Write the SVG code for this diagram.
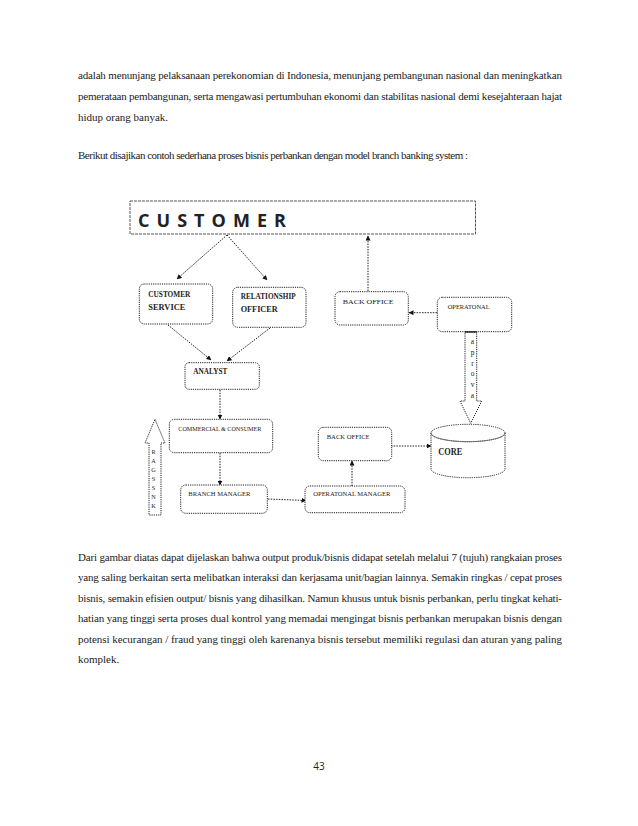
<svg xmlns="http://www.w3.org/2000/svg" width="638" height="826" viewBox="0 0 638 826">
<defs>
<style>
.p{font-family:"Liberation Serif","Times New Roman",serif;font-size:11px;fill:#222}
.bx{fill:#fff;stroke:#222;stroke-width:1;stroke-dasharray:1.2 1}
.lb{font-family:"Liberation Serif","Times New Roman",serif;font-size:7.2px;font-weight:bold;fill:#222}
.lt{font-family:"Liberation Serif","Times New Roman",serif;font-size:7px;fill:#222}
.cn{fill:none;stroke:#222;stroke-width:1;stroke-dasharray:1.5 1.2}
.vl{font-family:"Liberation Serif","Times New Roman",serif;font-size:7.5px;fill:#222;text-anchor:middle}
.vs{font-family:"Liberation Serif","Times New Roman",serif;font-size:6.2px;fill:#222;text-anchor:middle}
</style>
<marker id="ah" viewBox="0 0 10 10" refX="9" refY="5" markerWidth="5" markerHeight="5" orient="auto" markerUnits="userSpaceOnUse">
<path d="M0,0 L10,5 L0,10 z" fill="#111"/>
</marker>
</defs>
<rect width="638" height="826" fill="#fff"/>

<g id="text-top">
<text class="p" x="78" y="79" textLength="484" lengthAdjust="spacing">adalah menunjang pelaksanaan perekonomian di Indonesia, menunjang pembangunan nasional dan meningkatkan</text>
<text class="p" x="78" y="100" textLength="484" lengthAdjust="spacing">pemerataan pembangunan, serta mengawasi pertumbuhan ekonomi dan stabilitas nasional demi kesejahteraan hajat</text>
<text class="p" x="78" y="121">hidup orang banyak.</text>
<text class="p" x="78" y="159" textLength="390" lengthAdjust="spacing">Berikut disajikan contoh sederhana proses bisnis perbankan dengan model branch banking system :</text>
</g>

<g id="connectors">
<line class="cn" x1="227" y1="235" x2="177" y2="279" marker-end="url(#ah)"/>
<line class="cn" x1="227" y1="235" x2="267" y2="280" marker-end="url(#ah)"/>
<line class="cn" x1="368" y1="291" x2="368" y2="236" marker-end="url(#ah)"/>
<line class="cn" x1="437" y1="312.7" x2="409" y2="312.7" marker-end="url(#ah)"/>
<line class="cn" x1="168" y1="325" x2="211" y2="360" marker-end="url(#ah)"/>
<line class="cn" x1="270" y1="328" x2="227" y2="361" marker-end="url(#ah)"/>
<line class="cn" x1="220" y1="390" x2="220" y2="419" marker-end="url(#ah)"/>
<line class="cn" x1="220" y1="453" x2="220" y2="485" marker-end="url(#ah)"/>
<line class="cn" x1="268" y1="499" x2="306" y2="500.5" marker-end="url(#ah)"/>
<line class="cn" x1="352" y1="486" x2="352" y2="461" marker-end="url(#ah)"/>
<line class="cn" x1="391" y1="446" x2="431" y2="446" marker-end="url(#ah)"/>
</g>

<g id="customer">
<rect x="130" y="201" width="345.5" height="33" fill="#fff" stroke="#555" stroke-width="1" stroke-dasharray="3 1"/>
<text x="138" y="226.5" font-family="'Open Sans','Liberation Sans',Arial,sans-serif" font-weight="bold" font-size="18" fill="#222" textLength="148" lengthAdjust="spacing">C U S T O M E R</text>
</g>

<g id="customer-service">
<rect class="bx" x="139.3" y="284" width="73.4" height="40" rx="5"/>
<text class="lb" x="148.3" y="296.5" textLength="42" lengthAdjust="spacingAndGlyphs">CUSTOMER</text>
<text class="lb" x="148.3" y="309.5" textLength="37" lengthAdjust="spacingAndGlyphs">SERVICE</text>
</g>

<g id="relationship-officer">
<rect class="bx" x="232.7" y="287.3" width="73.3" height="40" rx="5"/>
<text class="lb" x="240.7" y="299" textLength="55" lengthAdjust="spacingAndGlyphs">RELATIONSHIP</text>
<text class="lb" x="240.7" y="312" textLength="37" lengthAdjust="spacingAndGlyphs">OFFICER</text>
</g>

<g id="back-office-1">
<rect class="bx" x="335" y="291.7" width="73.3" height="33.3" rx="5"/>
<text class="lt" x="342.7" y="304" textLength="51" lengthAdjust="spacingAndGlyphs">BACK OFFICE</text>
</g>

<g id="operatonal">
<rect class="bx" x="437.3" y="297.3" width="74.4" height="34.4" rx="5"/>
<text class="lt" x="447.7" y="309" textLength="42" lengthAdjust="spacingAndGlyphs">OPERATONAL</text>
</g>

<g id="approval-arrow">
<polygon class="bx" points="465,332 476.7,332 476.7,401 481.7,401 470.7,423.3 460,401 465,401"/>
<line x1="465" y1="332" x2="476.7" y2="332" stroke="#111" stroke-width="1.2"/>
<text class="vl" x="472.5" y="344">a</text>
<text class="vl" x="472.5" y="355">p</text>
<text class="vl" x="472.5" y="365.5">r</text>
<text class="vl" x="472.5" y="376">o</text>
<text class="vl" x="472.5" y="386.5">v</text>
<text class="vl" x="472.5" y="397.5">a</text>
</g>

<g id="analyst">
<rect class="bx" x="185" y="362.7" width="74.3" height="26.6" rx="4"/>
<text class="lb" x="193.3" y="373.5" textLength="34" lengthAdjust="spacingAndGlyphs">ANALYST</text>
</g>

<g id="commercial-consumer">
<rect class="bx" x="169.3" y="419.3" width="103.4" height="33.4" rx="5"/>
<text class="lt" x="178.3" y="430.5" textLength="83" lengthAdjust="spacingAndGlyphs">COMMERCIAL &amp; CONSUMER</text>
</g>

<g id="back-office-2">
<rect class="bx" x="318.3" y="427.3" width="73.4" height="33.4" rx="5"/>
<text class="lt" x="326.7" y="439" textLength="43" lengthAdjust="spacingAndGlyphs">BACK OFFICE</text>
</g>

<g id="core">
<path class="bx" d="M431,433 L431,469 A37,8.7 0 0 0 505,469 L505,433"/>
<ellipse cx="468" cy="433" rx="37" ry="8.7" fill="#fff" stroke="#222" stroke-width="1" stroke-dasharray="1.2 1"/>
<path d="M431,433 A37,8.7 0 0 0 505,433" fill="none" stroke="#666" stroke-width="0.8"/>
<text x="438.3" y="455" font-family="'Liberation Serif','Times New Roman',serif" font-weight="bold" font-size="9.5" fill="#222" textLength="24" lengthAdjust="spacingAndGlyphs">CORE</text>
</g>

<g id="left-arrow">
<polygon class="bx" points="155,419.3 165,443 161,443 161,515 149,515 149,443 145,443"/>
<text class="vs" x="153.5" y="454">R</text>
<text class="vs" x="153.5" y="463">A</text>
<text class="vs" x="153.5" y="472">G</text>
<text class="vs" x="153.5" y="481">S</text>
<text class="vs" x="153.5" y="490">S</text>
<text class="vs" x="153.5" y="499">N</text>
<text class="vs" x="153.5" y="508">K</text>
</g>

<g id="branch-manager">
<rect class="bx" x="180.7" y="485" width="86.6" height="28.3" rx="5"/>
<text class="lt" x="188.3" y="496" textLength="62" lengthAdjust="spacingAndGlyphs">BRANCH MANAGER</text>
</g>

<g id="operatonal-manager">
<rect class="bx" x="305" y="486" width="100" height="26.7" rx="5"/>
<text class="lt" x="313.3" y="496" textLength="77" lengthAdjust="spacingAndGlyphs">OPERATONAL MANAGER</text>
</g>

<g id="text-bottom">
<text class="p" x="78" y="561" textLength="484" lengthAdjust="spacing">Dari gambar diatas dapat dijelaskan bahwa output produk/bisnis didapat setelah melalui 7 (tujuh) rangkaian proses</text>
<text class="p" x="78" y="581" textLength="484" lengthAdjust="spacing">yang saling berkaitan serta melibatkan interaksi dan kerjasama unit/bagian lainnya.  Semakin ringkas / cepat proses</text>
<text class="p" x="78" y="602" textLength="484" lengthAdjust="spacing">bisnis, semakin efisien output/ bisnis yang dihasilkan. Namun khusus untuk bisnis perbankan, perlu tingkat kehati-</text>
<text class="p" x="78" y="622" textLength="484" lengthAdjust="spacing">hatian yang tinggi serta proses dual kontrol yang memadai mengingat bisnis perbankan merupakan bisnis dengan</text>
<text class="p" x="78" y="643" textLength="484" lengthAdjust="spacing">potensi kecurangan / fraud yang tinggi oleh karenanya bisnis tersebut memiliki regulasi dan aturan yang paling</text>
<text class="p" x="78" y="663">komplek.</text>
</g>

<text x="319" y="770" font-family="'Open Sans','Liberation Sans',Arial,sans-serif" font-size="10" fill="#222" text-anchor="middle">43</text>
</svg>
